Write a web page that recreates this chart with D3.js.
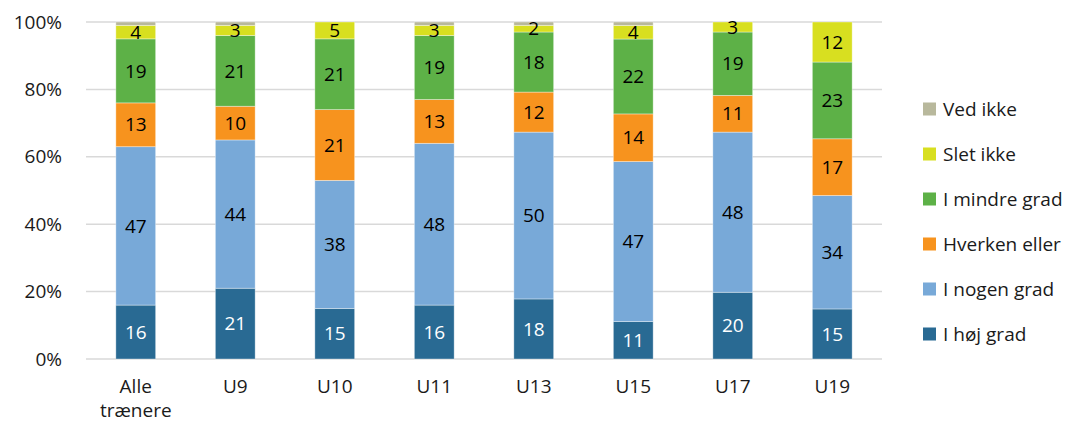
<!DOCTYPE html>
<html>
<head>
<meta charset="utf-8">
<script src="https://cdn.jsdelivr.net/npm/d3@7"></script>
<style>
  body { margin: 0; background: #fff; }
  svg { display: block; font-family: "Open Sans", sans-serif; }
</style>
</head>
<body>
<svg id="chart"></svg>
<script>
const categories = ["Alle trænere", "U9", "U10", "U11", "U13", "U15", "U17", "U19"];
const seriesNames = ["I høj grad", "I nogen grad", "Hverken eller", "I mindre grad", "Slet ikke", "Ved ikke"];
const hojGrad = [16, 21, 15, 16, 18, 11, 20, 15];
const nogenGrad = [47, 44, 38, 48, 50, 47, 48, 34];
const hverkenEller = [13, 10, 21, 13, 12, 14, 11, 17];
const mindreGrad = [19, 21, 21, 19, 18, 22, 19, 23];
const sletIkke = [4, 3, 5, 3, 2, 4, 3, 12];
const vedIkke = [1, 1, 0, 1, 1, 1, 0, 0];
const yTicks = [0, 0.2, 0.4, 0.6, 0.8, 1];

const colors = ["#296a93", "#78a9d8", "#f7931e", "#5db147", "#d8df20", "#b8b89c"];
const labelColors = ["#fff", "#000", "#000", "#000", "#000", null];

const width = 1075, height = 427;
const margin = { top: 22, right: 193, bottom: 68, left: 86 };
const fontSize = "19px";

const svg = d3.select("#chart").attr("width", width).attr("height", height);

const allSeries = [hojGrad, nogenGrad, hverkenEller, mindreGrad, sletIkke, vedIkke];
const rows = categories.map((c, i) => {
  const row = { cat: c };
  const total = d3.sum(allSeries, s => s[i]);
  seriesNames.forEach((n, k) => { row[n] = allSeries[k][i] / total; row["raw_" + n] = allSeries[k][i]; });
  return row;
});

const stacked = d3.stack().keys(seriesNames)(rows);

const x = d3.scaleBand()
  .domain(categories)
  .range([margin.left, width - margin.right])
  .paddingInner(0.6)
  .paddingOuter(0.3);

const y = d3.scaleLinear().domain([0, 1]).range([height - margin.bottom, margin.top]);

// gridlines
svg.append("g")
  .selectAll("line")
  .data(yTicks)
  .enter()
  .append("line")
  .attr("x1", margin.left)
  .attr("x2", width - margin.right)
  .attr("y1", d => y(d))
  .attr("y2", d => y(d))
  .attr("stroke", "#d9d9d9")
  .attr("stroke-width", 1.5);

// y-axis labels
const yAxis = svg.append("g")
  .attr("transform", `translate(${margin.left - 24}, 0)`)
  .call(d3.axisLeft(y).tickValues(yTicks).tickFormat(d3.format(".0%")).tickSize(0).tickPadding(0));
yAxis.select(".domain").remove();
yAxis.selectAll("text")
  .attr("font-size", fontSize)
  .attr("fill", "#1a1a1a")
  .attr("font-family", "'Open Sans', sans-serif");

// bars
const layers = svg.append("g")
  .selectAll("g")
  .data(stacked)
  .enter()
  .append("g")
  .attr("fill", (d, i) => colors[i]);

layers.selectAll("rect")
  .data(d => d)
  .enter()
  .append("rect")
  .attr("x", d => x(d.data.cat))
  .attr("y", d => y(d[1]))
  .attr("width", x.bandwidth())
  .attr("height", d => y(d[0]) - y(d[1]))
  .attr("stroke", "#ffffff")
  .attr("stroke-opacity", 0.45)
  .attr("stroke-width", 0.8);

// data labels
stacked.forEach((layer, k) => {
  if (!labelColors[k]) return;
  svg.append("g")
    .selectAll("text")
    .data(layer)
    .enter()
    .append("text")
    .attr("x", d => x(d.data.cat) + x.bandwidth() / 2)
    .attr("y", d => (y(d[0]) + y(d[1])) / 2)
    .attr("dy", "0.35em")
    .attr("text-anchor", "middle")
    .attr("font-size", fontSize)
    .attr("fill", labelColors[k])
    .text(d => d.data["raw_" + layer.key]);
});

// x-axis labels
const xl = svg.append("g")
  .selectAll("text")
  .data(categories)
  .enter()
  .append("text")
  .attr("x", d => x(d) + x.bandwidth() / 2)
  .attr("y", height - margin.bottom + 34)
  .attr("text-anchor", "middle")
  .attr("font-size", fontSize)
  .attr("fill", "#1a1a1a");
xl.each(function (d) {
  const parts = d.split(" ");
  const t = d3.select(this);
  parts.forEach((p, i) => {
    t.append("tspan")
      .attr("x", x(d) + x.bandwidth() / 2)
      .attr("dy", i === 0 ? 0 : 24)
      .text(p);
  });
});

// legend
const legendOrder = seriesNames.slice().reverse();
const legend = svg.append("g")
  .attr("transform", "translate(923, 109)")
  .selectAll("g")
  .data(legendOrder)
  .enter()
  .append("g")
  .attr("transform", (d, i) => `translate(0, ${i * 45})`);

legend.append("rect")
  .attr("x", 0)
  .attr("y", -6.5)
  .attr("width", 13)
  .attr("height", 13)
  .attr("fill", d => colors[seriesNames.indexOf(d)]);

legend.append("text")
  .attr("x", 20)
  .attr("dy", "0.35em")
  .attr("font-size", fontSize)
  .attr("fill", "#1a1a1a")
  .text(d => d);
</script>
</body>
</html>
